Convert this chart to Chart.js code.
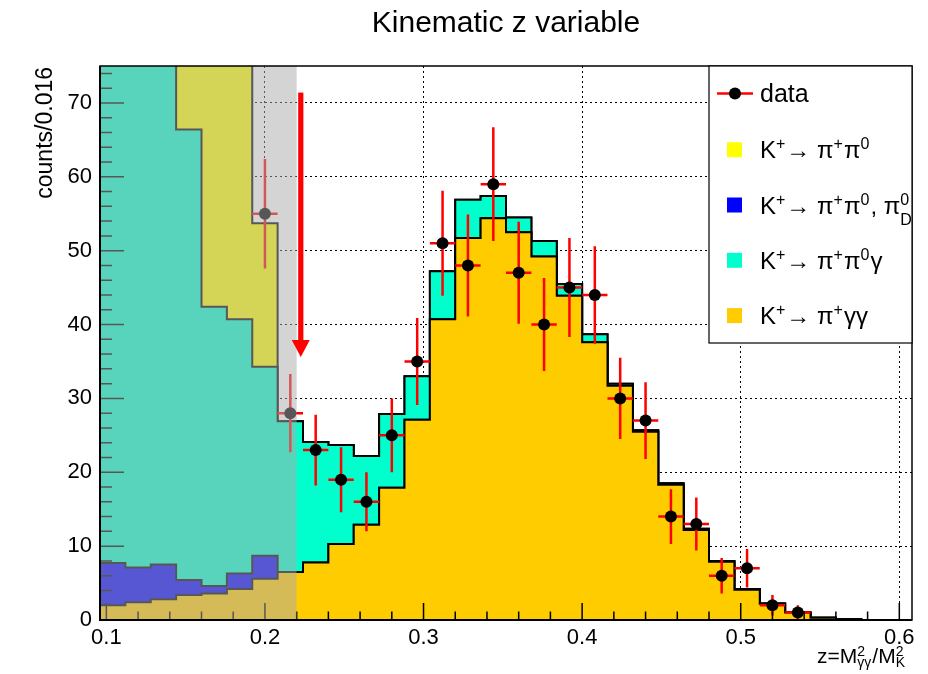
<!DOCTYPE html>
<html>
<head>
<meta charset="utf-8">
<script src="https://cdn.jsdelivr.net/npm/chart.js@4.4.0/dist/chart.umd.min.js"></script>
<style>
  html, body { margin: 0; padding: 0; background: #fff; }
</style>
</head>
<body>
<canvas id="chart" width="928" height="674"></canvas>
<script>
const FONT = '"Liberation Sans", Arial, Helvetica, sans-serif';

// 32 bins of width 0.016 from 0.096 to 0.608
const binEdges = [0.096, 0.112, 0.128, 0.144, 0.160, 0.176, 0.192, 0.208, 0.224, 0.240, 0.256,
  0.272, 0.288, 0.304, 0.320, 0.336, 0.352, 0.368, 0.384, 0.400, 0.416, 0.432, 0.448, 0.464,
  0.480, 0.496, 0.512, 0.528, 0.544, 0.560, 0.576, 0.592, 0.608];
const binCenters = [0.104, 0.120, 0.136, 0.152, 0.168, 0.184, 0.200, 0.216, 0.232, 0.248, 0.264,
  0.280, 0.296, 0.312, 0.328, 0.344, 0.360, 0.376, 0.392, 0.408, 0.424, 0.440, 0.456, 0.472,
  0.488, 0.504, 0.520, 0.536, 0.552, 0.568, 0.584, 0.600];

// MC components, per bin (stacked bottom -> top)
const kPiGG = [2.0, 2.4, 2.8, 3.4, 3.6, 4.2, 5.6, 6.5, 7.8, 10.3, 12.9, 17.9, 27.1, 40.7, 51.7, 54.4,
  52.5, 49.2, 43.9, 37.6, 31.7, 25.5, 18.3, 12.2, 7.9, 4.1, 2.2, 1.0, 0.3, 0.1, 0, 0];
const kPiPi0Dalitz = [5.7, 4.7, 4.7, 2.0, 1.0, 2.1, 3.1, 0, 0, 0, 0, 0, 0, 0, 0, 0,
  0, 0, 0, 0, 0, 0, 0, 0, 0, 0, 0, 0, 0, 0, 0, 0];
const kPiPi0G = [92, 88, 80, 61.0, 37.8, 34.4, 25.6, 20.4, 16.3, 13.4, 9.3, 10.0, 5.9, 6.5, 5.2, 3.0,
  2.0, 2.1, 1.6, 1.1, 0.3, 0.2, 0.2, 0.15, 0.1, 0.1, 0.05, 0, 0, 0, 0, 0];
const kPiPi0 = [60, 50, 40, 30, 45, 45, 19.4, 0, 0, 0, 0, 0, 0, 0, 0, 0,
  0, 0, 0, 0, 0, 0, 0, 0, 0, 0, 0, 0, 0, 0, 0, 0];

// data (bins above the plotted range are not drawn)
const dataCounts = [null, null, null, null, null, null, 55, 28, 23, 19, 16, 25, 35, 51, 48, 59,
  47, 40, 45, 44, 30, 27, 14, 13, 6, 7, 2, 1, null, null, null, null];
const dataErrors = [null, null, null, null, null, null, 7.4, 5.3, 4.8, 4.4, 4.0, 5.0, 5.9, 7.1, 6.9, 7.7,
  6.9, 6.3, 6.7, 6.6, 5.5, 5.2, 3.7, 3.6, 2.4, 2.6, 1.4, 1.0, null, null, null, null];

const xTicks = [0.1, 0.2, 0.3, 0.4, 0.5, 0.6];
const yTicks = [0, 10, 20, 30, 40, 50, 60, 70];

const cutZ = 0.22;
const arrowZ = 0.2226;
const arrowTop = 71.4, arrowBase = 37.9, arrowTip = 35.6;

const histColors = ['#ffcc00', '#0000ff', '#00ffcc', '#ffff00'];
const stackOrder = [kPiGG, kPiPi0Dalitz, kPiPi0G, kPiPi0];

// cumulative tops for the stack
const cumulative = [];
let running = binCenters.map(() => 0);
stackOrder.forEach(s => {
  running = running.map((v, i) => v + s[i]);
  cumulative.push(running);
});

function stepPoints(vals) {
  const pts = vals.map((v, i) => ({ x: binEdges[i], y: v }));
  pts.push({ x: binEdges[binEdges.length - 1], y: vals[vals.length - 1] });
  return pts;
}

const dataPoints = [];
dataCounts.forEach((c, i) => {
  if (c !== null) dataPoints.push({ x: binCenters[i], y: c, err: dataErrors[i] });
});

// legend labels with super/subscripts
const legendEntries = [
  { color: histColors[3], parts: [{ t: 'K' }, { sup: '+' }, { t: '\u2192 \u03c0' }, { sup: '+' }, { t: '\u03c0' }, { sup: '0' }] },
  { color: histColors[1], parts: [{ t: 'K' }, { sup: '+' }, { t: '\u2192 \u03c0' }, { sup: '+' }, { t: '\u03c0' }, { sup: '0' }, { t: ', \u03c0' }, { sup: '0', sub: 'D' }] },
  { color: histColors[2], parts: [{ t: 'K' }, { sup: '+' }, { t: '\u2192 \u03c0' }, { sup: '+' }, { t: '\u03c0' }, { sup: '0' }, { t: '\u03b3' }] },
  { color: histColors[0], parts: [{ t: 'K' }, { sup: '+' }, { t: '\u2192 \u03c0' }, { sup: '+' }, { t: '\u03b3\u03b3' }] }
];
const xTitleParts = [{ t: 'z=M' }, { sup: '2', sub: '\u03b3\u03b3' }, { t: '/M' }, { sup: '2', sub: 'K' }];

function drawRich(ctx, parts, x, y, size, opt, dry) {
  const small = Math.round(size * opt.scale);
  let cx = x;
  parts.forEach(p => {
    if (p.t) {
      ctx.font = size + 'px ' + FONT;
      if (!dry) ctx.fillText(p.t, cx, y);
      cx += ctx.measureText(p.t).width;
    } else {
      ctx.font = small + 'px ' + FONT;
      let w = 0;
      if (p.sup) {
        if (!dry) ctx.fillText(p.sup, cx, y - opt.raise);
        w = Math.max(w, ctx.measureText(p.sup).width);
      }
      if (p.sub) {
        if (!dry) ctx.fillText(p.sub, cx, y + opt.drop);
        w = Math.max(w, ctx.measureText(p.sub).width);
      }
      cx += w + 1;
    }
  });
  return cx - x;
}

const rootStyle = {
  id: 'rootStyle',
  beforeDatasetDraw(chart, args) {
    if (args.index !== 0) return;
    const { ctx, scales: { x, y } } = chart;
    ctx.save();
    ctx.strokeStyle = '#ff0000';
    ctx.lineWidth = 2.5;
    ctx.beginPath();
    dataPoints.forEach(p => {
      const px = x.getPixelForValue(p.x), py = y.getPixelForValue(p.y);
      ctx.moveTo(x.getPixelForValue(p.x - 0.008), py);
      ctx.lineTo(x.getPixelForValue(p.x + 0.008), py);
      ctx.moveTo(px, y.getPixelForValue(p.y + p.err));
      ctx.lineTo(px, y.getPixelForValue(p.y - p.err));
    });
    ctx.stroke();
    ctx.restore();
  },
  afterDatasetsDraw(chart) {
    const { ctx, chartArea: a, scales: { x, y } } = chart;
    ctx.save();
    // inward ticks
    ctx.strokeStyle = '#000';
    ctx.lineWidth = 1.5;
    ctx.beginPath();
    for (let k = 0; k <= 25; k++) {
      const px = x.getPixelForValue(0.1 + k * 0.02);
      const len = k % 5 === 0 ? 17 : 8.5;
      ctx.moveTo(px, a.bottom);
      ctx.lineTo(px, a.bottom - len);
    }
    for (let k = 0; k <= 37; k++) {
      const py = y.getPixelForValue(k * 2);
      const len = k % 5 === 0 ? 24 : 12;
      ctx.moveTo(a.left, py);
      ctx.lineTo(a.left + len, py);
    }
    ctx.stroke();

    // shaded excluded region
    ctx.fillStyle = 'rgba(171,171,171,0.51)';
    ctx.fillRect(a.left, a.top, x.getPixelForValue(cutZ) - a.left, a.bottom - a.top);

    // cut arrow
    const ax = x.getPixelForValue(arrowZ);
    ctx.fillStyle = '#ff0000';
    ctx.fillRect(ax - 2.6, y.getPixelForValue(arrowTop), 5.2, y.getPixelForValue(arrowBase) - y.getPixelForValue(arrowTop));
    ctx.beginPath();
    ctx.moveTo(ax - 9, y.getPixelForValue(arrowBase));
    ctx.lineTo(ax + 9, y.getPixelForValue(arrowBase));
    ctx.lineTo(ax, y.getPixelForValue(arrowTip));
    ctx.closePath();
    ctx.fill();

    // frame
    ctx.strokeStyle = '#000';
    ctx.lineWidth = 1.5;
    ctx.strokeRect(a.left, a.top, a.right - a.left, a.bottom - a.top);
    ctx.lineWidth = 2;
    ctx.beginPath();
    ctx.moveTo(a.left, a.top);
    ctx.lineTo(a.left, a.bottom);
    ctx.lineTo(a.right, a.bottom);
    ctx.stroke();
    ctx.restore();
  },
  afterDraw(chart) {
    const { ctx, chartArea: a } = chart;
    ctx.save();
    ctx.fillStyle = '#000';
    ctx.textBaseline = 'alphabetic';

    // title
    ctx.font = '30px ' + FONT;
    ctx.textAlign = 'center';
    ctx.fillText('Kinematic z variable', (a.left + a.right) / 2, 32);

    // y title
    ctx.save();
    ctx.translate(52, a.top + 1);
    ctx.rotate(-Math.PI / 2);
    ctx.textAlign = 'right';
    ctx.font = '23px ' + FONT;
    ctx.fillText('counts/0.016', 0, 0);
    ctx.restore();

    // x title
    ctx.textAlign = 'left';
    const xOpt = { scale: 0.65, raise: 7, drop: 4 };
    const w = drawRich(ctx, xTitleParts, 0, 0, 21, xOpt, true);
    drawRich(ctx, xTitleParts, a.right - 6 - w, 663, 21, xOpt, false);

    // legend
    const lx = 709, ly = a.top, lw = a.right - 709, lh = 343 - a.top;
    ctx.fillStyle = '#fff';
    ctx.fillRect(lx, ly, lw, lh);
    ctx.strokeStyle = '#000';
    ctx.lineWidth = 1.2;
    ctx.strokeRect(lx, ly, lw, lh);

    ctx.strokeStyle = '#ff0000';
    ctx.lineWidth = 2.5;
    ctx.beginPath();
    ctx.moveTo(717, 93.5);
    ctx.lineTo(753, 93.5);
    ctx.stroke();
    ctx.fillStyle = '#000';
    ctx.beginPath();
    ctx.arc(735, 93.5, 6, 0, Math.PI * 2);
    ctx.fill();
    ctx.font = '25px ' + FONT;
    ctx.fillText('data', 760, 102);

    const lOpt = { scale: 0.66, raise: 9, drop: 11 };
    legendEntries.forEach((e, i) => {
      const cy = 149.7 + i * 55.3;
      ctx.fillStyle = e.color;
      ctx.fillRect(727, cy - 7.5, 15, 15);
      ctx.fillStyle = '#000';
      drawRich(ctx, e.parts, 760, cy + 8.5, 24, lOpt, false);
    });
    ctx.restore();
  }
};

const histDatasets = stackOrder.map((s, k) => ({
  label: 'stack' + k,
  data: stepPoints(cumulative[k]),
  stepped: 'before',
  fill: 'origin',
  backgroundColor: histColors[k],
  borderColor: '#000',
  borderWidth: 2,
  pointRadius: 0,
  clip: 0,
  order: k + 1
}));

new Chart(document.getElementById('chart'), {
  type: 'line',
  data: {
    datasets: [
      {
        label: 'data',
        data: dataPoints,
        showLine: false,
        pointRadius: 6,
        pointHoverRadius: 6,
        pointBackgroundColor: '#000',
        pointBorderWidth: 0,
        order: 0
      },
      ...histDatasets
    ]
  },
  options: {
    responsive: false,
    animation: false,
    devicePixelRatio: 1,
    layout: { padding: { top: 66, right: 16, left: 0, bottom: 0 } },
    plugins: { legend: { display: false }, tooltip: { enabled: false } },
    scales: {
      x: {
        type: 'linear',
        min: 0.096,
        max: 0.608,
        afterBuildTicks: scale => { scale.ticks = xTicks.map(v => ({ value: v })); },
        afterFit: scale => { scale.height = 54; },
        ticks: {
          color: '#000',
          padding: 5,
          maxRotation: 0,
          font: { family: FONT, size: 22 },
          callback: v => v.toFixed(1)
        },
        grid: { color: '#000', lineWidth: 1, drawTicks: false },
        border: { display: false, dash: [2, 3] }
      },
      y: {
        min: 0,
        max: 75,
        afterBuildTicks: scale => { scale.ticks = yTicks.map(v => ({ value: v })); },
        afterFit: scale => { scale.width = 100; },
        ticks: {
          color: '#000',
          padding: 8,
          font: { family: FONT, size: 22 }
        },
        grid: { color: '#000', lineWidth: 1, drawTicks: false },
        border: { display: false, dash: [2, 3] }
      }
    }
  },
  plugins: [rootStyle]
});
</script>
</body>
</html>
